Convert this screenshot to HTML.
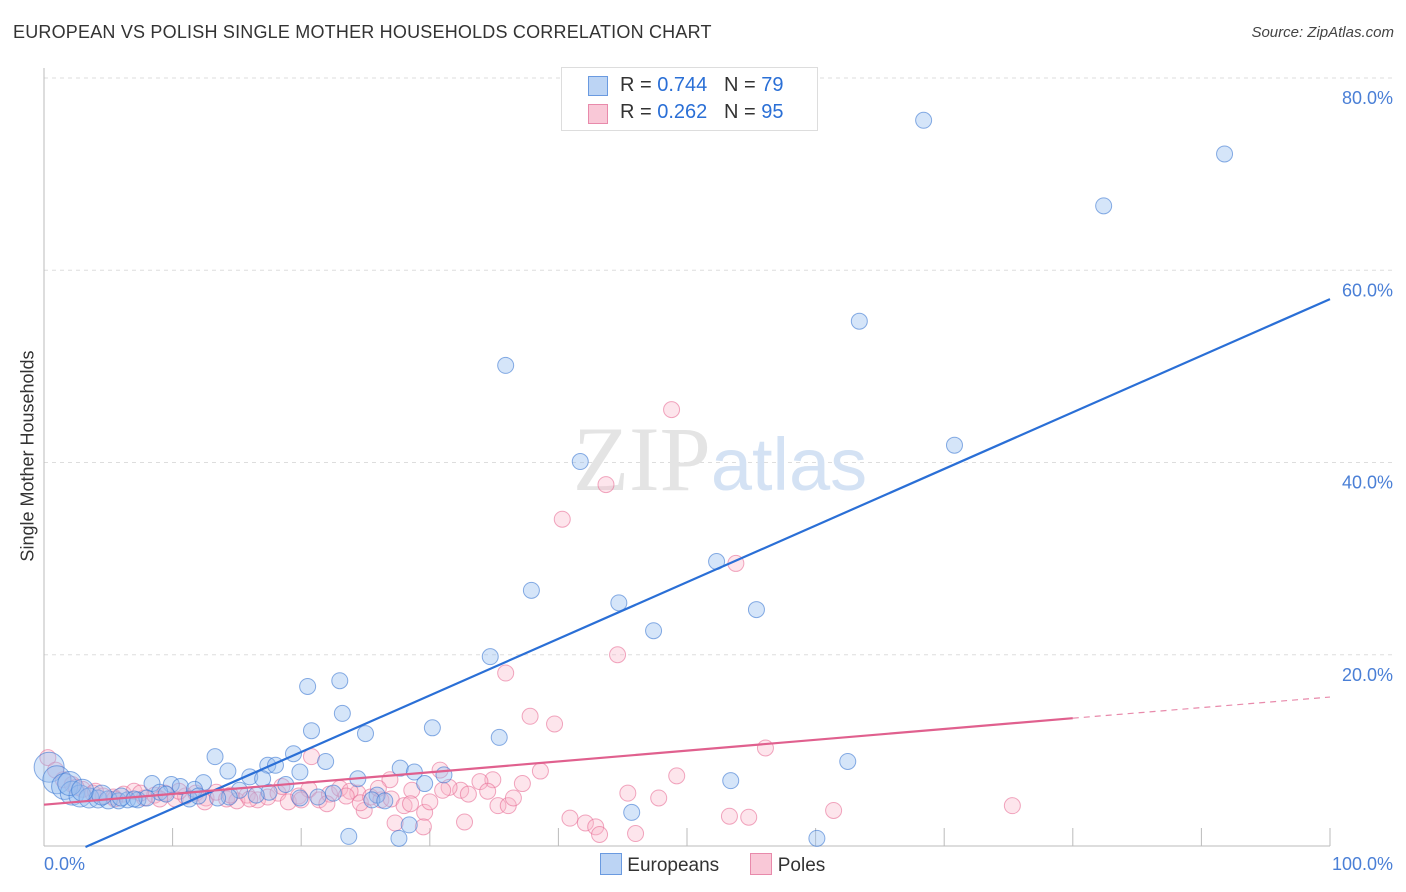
<!DOCTYPE html>
<html><head><meta charset="utf-8"><style>
body{margin:0;background:#fff;font-family:"Liberation Sans",sans-serif}
#wrap{position:relative;width:1406px;height:892px;overflow:hidden}
.t{position:absolute;white-space:nowrap}
</style></head><body>
<div id="wrap">
<div class="t" style="left:13px;top:22px;font-size:18px;color:#333;letter-spacing:0.2px">EUROPEAN VS POLISH SINGLE MOTHER HOUSEHOLDS CORRELATION CHART</div>
<div class="t" style="right:12px;top:24px;font-size:15px;color:#444;font-style:italic">Source: ZipAtlas.com</div>
<svg id="svg" width="1406" height="892" style="position:absolute;left:0;top:0"></svg>
</div>
<script>
const yTicks=[20,40,60,80];
const xTickLabels=["0.0%","100.0%"];
const blueX=[68.4,91.8,82.4,63.4,35.9,70.8,41.7,52.3,37.9,44.7,55.4,47.4,34.7,20.5,23.0,23.2,20.8,30.2,25.0,35.4,13.3,19.4,21.9,17.4,18.0,62.5,27.7,14.3,19.9,28.8,31.1,16.0,17.0,24.4,53.4,12.4,8.4,29.6,9.9,10.6,18.8,11.7,15.2,9.0,25.9,21.3,45.7,23.7,27.6,28.4,60.1,0.4,1.0,1.6,2.2,2.8,3.5,4.2,5.0,5.8,6.5,7.3,8.0,11.3,14.4,17.5,19.9,25.5,2.0,3.0,4.5,6.0,7.0,9.5,12.0,13.5,16.5,22.5,26.5];
const blueY=[75.6,72.1,66.7,54.7,50.1,41.8,40.1,29.7,26.7,25.4,24.7,22.5,19.8,16.7,17.3,13.9,12.1,12.4,11.8,11.4,9.4,9.7,8.9,8.5,8.5,8.9,8.2,7.9,7.8,7.8,7.5,7.3,7.1,7.1,6.9,6.7,6.6,6.6,6.5,6.3,6.5,6.0,5.9,5.7,5.4,5.2,3.6,1.1,0.9,2.3,0.9,8.3,7.0,6.3,5.6,5.3,5.1,5.0,4.9,4.8,4.9,4.9,5.1,5.0,5.2,5.7,5.1,4.9,6.6,5.9,5.4,5.2,5.0,5.5,5.3,5.1,5.4,5.6,4.8];
const blueR=[8,8,8,8,8,8,8,8,8,8,8,8,8,8,8,8,8,8,8,8,8,8,8,8,8,8,8,8,8,8,8,8,8,8,8,8,8,8,8,8,8,8,8,8,8,8,8,8,8,8,8,15,14,13,12,11,10,9,9,8,8,8,8,8,8,8,8,8,12,11,10,9,8,8,8,8,8,8,8];
const pinkX=[48.8,43.7,40.3,53.8,44.6,35.9,37.8,39.7,56.1,20.8,30.8,38.6,49.2,34.9,33.9,26.9,37.2,32.4,45.4,47.8,28.6,24.4,75.3,35.3,36.1,29.6,61.4,24.9,54.8,53.3,40.9,42.1,32.7,42.9,27.3,29.5,43.2,46.0,0.3,0.9,1.5,2.2,3.0,3.8,4.6,5.4,6.2,7.0,7.8,8.6,9.4,10.2,11.0,11.8,12.6,13.4,14.2,15.0,15.8,16.6,17.4,18.2,19.0,19.8,20.6,21.4,22.2,23.0,23.8,24.6,25.4,26.2,27.0,28.0,30.0,31.5,33.0,34.5,2.5,4.0,5.5,7.5,9.0,10.5,12.5,14.5,16.0,18.5,20.0,22.0,23.5,26.0,28.5,31.0,36.5];
const pinkY=[45.5,37.7,34.1,29.5,20.0,18.1,13.6,12.8,10.3,9.4,8.0,7.9,7.4,7.0,6.8,7.0,6.6,5.9,5.6,5.1,5.9,5.6,4.3,4.3,4.3,3.6,3.8,3.8,3.1,3.2,3.0,2.5,2.6,2.1,2.5,2.1,1.3,1.4,9.3,8.0,7.0,6.5,6.0,5.6,5.3,5.2,5.5,5.8,5.1,5.4,5.6,5.0,5.3,5.6,5.1,5.7,5.0,4.8,5.4,4.9,5.2,5.6,4.7,5.3,6.0,4.9,5.5,6.1,5.8,4.6,5.2,4.9,5.0,4.3,4.7,6.2,5.5,5.8,6.2,5.8,5.0,5.6,5.0,5.8,4.7,5.4,5.0,6.3,4.9,4.5,5.3,6.1,4.5,5.9,5.1];
const L=44,R=1330,B=847,T=78;
const sx=v=>L+(R-L)*v/100, sy=v=>B-(B-T)*v/80;
const svg=document.getElementById('svg');const NS='http://www.w3.org/2000/svg';
function mk(tag,attrs,parent){const e=document.createElementNS(NS,tag);for(const k in attrs)e.setAttribute(k,attrs[k]);(parent||svg).appendChild(e);return e;}
yTicks.forEach(v=>{
 const g=mk('line',{x1:L,x2:1393,y1:sy(v),y2:sy(v),stroke:'#ddd','stroke-dasharray':'4,4'});
 
 
 const t=mk('text',{x:1393,y:sy(v)+26,'text-anchor':'end','font-size':18,fill:'#4a7fd6','font-family':'Liberation Sans, sans-serif'});
 t.textContent=v.toFixed(1)+'%';
 
 
});
const ax=mk('line',{x1:L,x2:L,y1:68,y2:846,stroke:'#bbb'});


const bx=mk('line',{x1:L,x2:R,y1:846,y2:846,stroke:'#bbb'});


for(let i=1;i<=10;i++){const tk=mk('line',{x1:sx(i*10),x2:sx(i*10),y1:828,y2:846,stroke:'#bbb'});
 
 }
[[0,'start',L],[1,'end',1393]].forEach(([i,a,x])=>{const t=mk('text',{x:x,y:870,'text-anchor':a,'font-size':18,fill:'#4a7fd6','font-family':'Liberation Sans, sans-serif'});t.textContent=xTickLabels[i];
 
 });
const wm=mk('text',{x:720,y:490,'text-anchor':'middle','font-size':92,'font-family':'Liberation Serif, serif',fill:'#e4e4e4'});
wm.innerHTML='<tspan>ZIP</tspan><tspan font-family="Liberation Sans, sans-serif" fill="#d4e2f4" font-size="74">atlas</tspan>';


pinkX.forEach((x,i)=>{const c=mk('circle',{cx:sx(x),cy:sy(pinkY[i]),r:8,fill:'rgba(248,180,200,0.35)',stroke:'rgba(232,110,150,0.6)','stroke-width':1});
 
 });
blueX.forEach((x,i)=>{const c=mk('circle',{cx:sx(x),cy:sy(blueY[i]),r:blueR[i],fill:'rgba(150,190,240,0.4)',stroke:'rgba(60,120,210,0.6)','stroke-width':1});
 
 });
const bInt=-1.9,bSlope=0.589;
const bx0=-bInt/bSlope;
const bl=mk('line',{x1:sx(bx0),y1:sy(0),x2:sx(100),y2:sy(bInt+bSlope*100),stroke:'#2a6fd6','stroke-width':2.2});


const pl=mk('line',{x1:sx(0),y1:sy(4.4),x2:sx(80),y2:sy(13.4),stroke:'#e0608e','stroke-width':2.2});


const pd=mk('line',{x1:sx(80),y1:sy(13.4),x2:sx(100),y2:sy(15.6),stroke:'#e88aab','stroke-width':1.2,'stroke-dasharray':'6,5'});


</script>
<div class="t" style="left:561px;top:67px;width:255px;height:62px;border:1px solid #ddd;background:#fff;font-size:20px;color:#333">
 <div style="position:absolute;left:26px;top:8px;width:18px;height:18px;background:#bcd4f4;border:1px solid #6a9ae0"></div>
 <div style="position:absolute;left:58px;top:6px">R = <span style="color:#2a6fd6">0.744</span>&nbsp;&nbsp;&nbsp;N = <span style="color:#2a6fd6">79</span></div>
 <div style="position:absolute;left:26px;top:36px;width:18px;height:18px;background:#f9c8d7;border:1px solid #e88aab"></div>
 <div style="position:absolute;left:58px;top:33px">R = <span style="color:#2a6fd6">0.262</span>&nbsp;&nbsp;&nbsp;N = <span style="color:#2a6fd6">95</span></div>
</div>
<div class="t" style="left:600px;top:853px;font-size:19px;color:#333">
 <span style="display:inline-block;width:20px;height:20px;background:#bcd4f4;border:1px solid #6a9ae0;vertical-align:-4px"></span> <span>Europeans</span>
 <span style="display:inline-block;width:20px;height:20px;background:#f9c8d7;border:1px solid #e88aab;vertical-align:-4px;margin-left:26px"></span> <span>Poles</span>
</div>
<div class="t" style="left:28px;top:456px;font-size:18px;color:#333;transform:translate(-50%,-50%) rotate(-90deg)">Single Mother Households</div>
</body></html>
